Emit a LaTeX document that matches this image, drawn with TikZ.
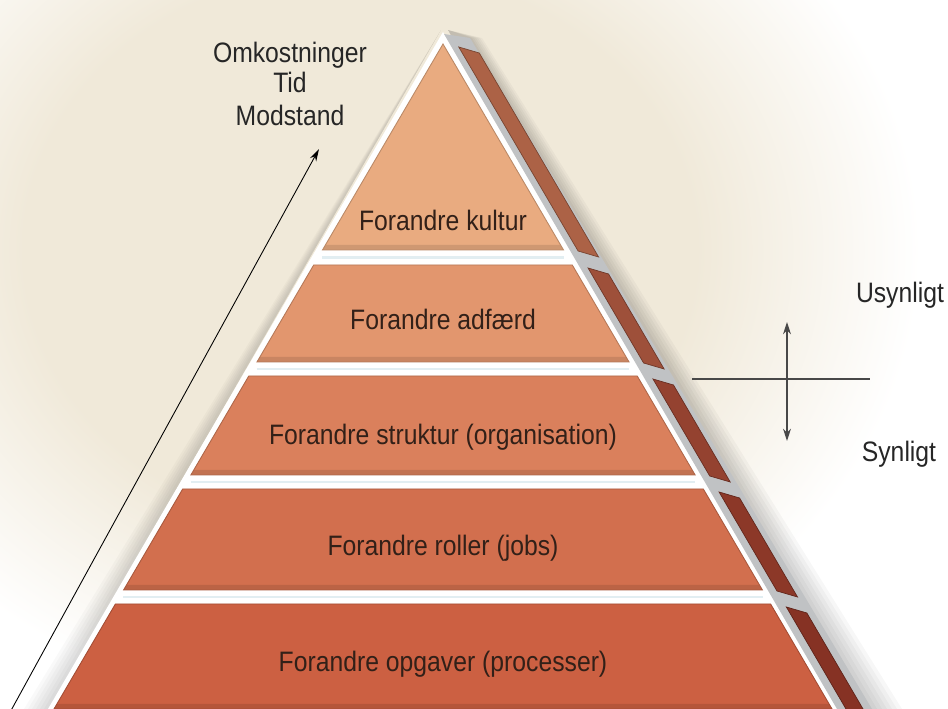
\documentclass[tikz,border=0pt]{standalone}
\usepackage{fontspec}
\setmainfont{Liberation Sans}[FakeStretch=0.88]
\usepackage{tikz}
\usetikzlibrary{positioning, arrows.meta}
\usepackage{xcolor}
\definecolor{parch}{RGB}{240, 233, 217}
\definecolor{layA}{RGB}{233, 171, 128}
\definecolor{layB}{RGB}{226, 150, 110}
\definecolor{layC}{RGB}{218, 128, 92}
\definecolor{layD}{RGB}{210, 111, 78}
\definecolor{layE}{RGB}{204, 96, 66}
\definecolor{stripA}{RGB}{172, 98, 70}
\definecolor{stripB}{RGB}{158, 80, 58}
\definecolor{stripC}{RGB}{148, 66, 48}
\definecolor{stripD}{RGB}{140, 56, 40}
\definecolor{stripE}{RGB}{134, 50, 36}
\definecolor{bandgrey}{RGB}{192, 194, 196}
\definecolor{gapblue}{RGB}{226, 238, 242}
\definecolor{inkbrown}{RGB}{50, 32, 24}
\definecolor{inkgrey}{RGB}{72, 72, 72}
\pgfdeclareradialshading{parchment}{\pgfpoint{0bp}{0bp}}{color(0bp)=(parch); color(15bp)=(parch); color(25bp)=(white); color(50bp)=(white)}

\begin{document}
\begin{tikzpicture}[x=0.02cm, y=-0.02cm,
    declare function={redge(\y)=443+0.585*(\y-44); ledge(\y)=443-0.585*(\y-44);}]
        \tikzstyle{laytext} = [font=\fontsize{16}{19}\selectfont, text=inkbrown, anchor=base]
        \tikzstyle{note} = [font=\fontsize{16}{19}\selectfont, text=black!85, anchor=base]
        \tikzstyle{tick} = [draw=inkgrey, line width=0.7pt]

        \useasboundingbox (0,0) rectangle (948,709);
        \fill[white] (0,0) rectangle (948,709);
        \shade[shading=parchment] (360,250) ellipse [x radius=560, y radius=470];

        % soft shadows round the pyramid
        \foreach \k in {1,...,6} {
          \fill[black, opacity=0.03] (448,30) -- (470+2*\k,38) -- (872+5*\k,709) -- (836,709) -- cycle;
          \fill[black, opacity=0.025] (441,30) -- ({48-4*\k},709) -- (50,709) -- cycle;
        }

        \fill[white] (443,32) -- (838,709) -- (48,709) -- cycle;
        \fill[bandgrey] (444,34) -- (470,38) -- (872,709) -- (837,709) -- cycle;

        \foreach \yt/\yb/\ty/\col/\side/\txt [count=\i] in
          {44/250/231/layA/stripA/Forandre kultur,
           265/362/330/layB/stripB/Forandre adfærd,
           376/475/445/layC/stripC/Forandre struktur (organisation),
           489/590/556/layD/stripD/Forandre roller (jobs),
           604/709/672/layE/stripE/Forandre opgaver (processer)} {
          \fill[\side, draw=\side!70!black, line width=0.4pt]
            ({redge(\yt+3)+14},\yt+3) -- ({redge(\yt+9)+31},\yt+9)
            -- ({redge(\yb+7)+31},\yb+7) -- ({redge(\yb+1)+14},\yb+1) -- cycle;
          \fill[\col] ({ledge(\yt)},\yt) -- ({redge(\yt)},\yt)
            -- ({redge(\yb)},\yb) -- ({ledge(\yb)},\yb) -- cycle;
          \fill[\col!82!black, opacity=0.6] ({ledge(\yb-5)},\yb-5) -- ({redge(\yb-5)},\yb-5)
            -- ({redge(\yb)},\yb) -- ({ledge(\yb)},\yb) -- cycle;
          \draw[\col!80!black, line width=0.5pt] ({ledge(\yt)},\yt) -- ({redge(\yt)},\yt)
            -- ({redge(\yb)},\yb) -- ({ledge(\yb)},\yb) -- cycle;
          \node[laytext] (lay\i) at (443,\ty) {\txt};
        }

        \foreach \yg in {257.5, 369, 482, 597}
          \draw[gapblue, line width=1.5pt] ({ledge(\yg)+4},\yg) -- ({redge(\yg)-4},\yg);

        \node[note] (cost) at (290,63) {Omkostninger};
        \node[note] (tid) at (290,93) {Tid};
        \node[note] (modst) at (290,126) {Modstand};
        \coordinate (costfoot) at (8,716);
        \coordinate (costtip) at (319,149);
        \draw[black, line width=0.5pt, -{Stealth[length=7pt, width=4pt]}] (costfoot) -- (costtip);

        \node[note] (usyn) at (900,303) {Usynligt};
        \node[note] (syn) at (899,462) {Synligt};
        \coordinate (hleft) at (692,379);
        \coordinate (hright) at (870,379);
        \coordinate (vtop) at (787,322);
        \coordinate (vbot) at (787,441);
        \draw[tick] (hleft) -- (hright);
        \draw[tick, {Stealth[length=7pt, width=4.5pt]}-{Stealth[length=7pt, width=4.5pt]}] (vtop) -- (vbot);
      \end{tikzpicture}
\end{document}
